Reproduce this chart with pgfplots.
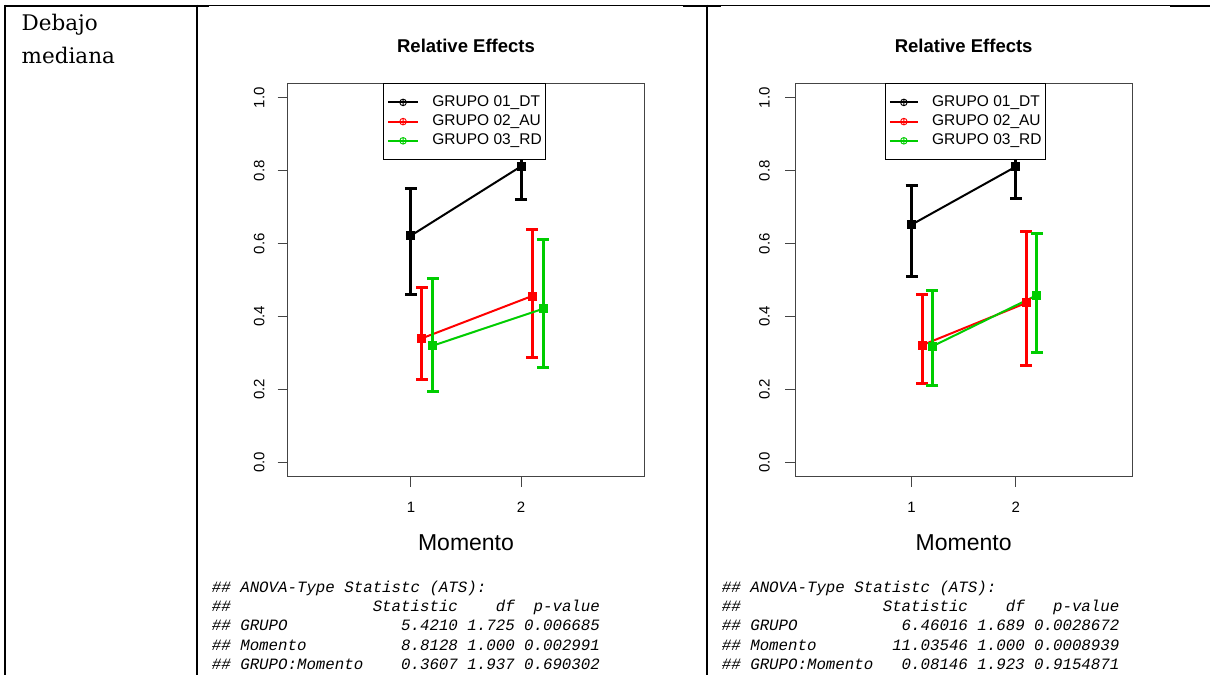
\documentclass[border=0pt]{standalone}
\usepackage{pgfplots}
\pgfplotsset{compat=1.18}
\usepackage{fontspec}
\setmainfont{Liberation Sans}
\newfontfamily\cellserif{DejaVu Serif}
\newfontfamily\rmono{Liberation Mono}
\definecolor{rred}{HTML}{FF0000}
\definecolor{rgreen}{HTML}{00CD00}
\definecolor{boxgray}{HTML}{444444}

\newcommand\legimg[2]{%
  \draw[#1, line width=2pt] (0pt,0pt) -- (#2,0pt);
  \draw[#1, line width=0.9pt] (0.5*#2,0pt) circle (3.3pt)
     (0.5*#2-3.3pt,0pt) -- (0.5*#2+3.3pt,0pt)
     (0.5*#2,-3.3pt) -- (0.5*#2,3.3pt);}

\pgfplotsset{
  rplot/.style={
    scale only axis, height=393.4pt,
    xmin=-0.12, xmax=3.12, ymin=-0.04, ymax=1.04,
    axis line style={boxgray, line width=1pt},
    tick style={boxgray, line width=1pt},
    tick align=outside, major tick length=10pt,
    xtick={1,2}, xticklabels={1,2},
    ytick={0,0.2,0.4,0.6,0.8,1.0}, yticklabels={0.0,0.2,0.4,0.6,0.8,1.0},
    tick pos=left,
    ticklabel style={font=\fontsize{15}{18}\selectfont, inner sep=0pt},
    yticklabel style={rotate=90, anchor=south},
    xticklabel style={anchor=base},
    xticklabel shift=26pt,
    title={Relative Effects},
    title style={font=\fontsize{18.5}{22}\selectfont\bfseries, at={(rel axis cs:0.5,1)}, anchor=base, yshift=24.6pt, inner sep=0pt},
    xlabel={Momento},
    xlabel style={font=\fontsize{23}{27}\selectfont, at={(rel axis cs:0.5,0)}, anchor=base, yshift=-74pt, inner sep=0pt},
    legend cell align=left,
    legend style={anchor=north west, draw=black, line width=0.8pt, fill=white,
      inner xsep=3.4pt, inner ysep=11.7pt, row sep=5.2pt,
      font=\fontsize{15.5}{18}\selectfont,
      nodes={inner sep=0pt, text height=11pt, text depth=3pt},
      /tikz/every odd column/.append style={column sep=13.3pt}},
  },
  errplot/.style={line width=2pt, mark=square*, mark size=3.5pt, mark options={solid},
    /pgfplots/error bars/y dir=both, /pgfplots/error bars/y explicit,
    /pgfplots/error bars/error mark=|,
    /pgfplots/error bars/error bar style={line width=3pt},
    /pgfplots/error bars/error mark options={line width=3pt, mark size=6pt}},
}

\newcommand\mline[3]{\node[anchor=base west, inner sep=0pt, font=\rmono\itshape\fontsize{15.77}{19}\selectfont] at (#1pt,-#2pt) {#3};}

\begin{document}
\begin{tikzpicture}
\path[use as bounding box, fill=white] (0pt,0pt) rectangle (1210pt,-675pt);

% table rules
\draw[line width=2pt] (5pt,-4.5pt) -- (5pt,-675pt);
\draw[line width=2pt] (196.7pt,-4.5pt) -- (196.7pt,-675pt);
\draw[line width=2pt] (706.7pt,-4.5pt) -- (706.7pt,-675pt);
\draw[line width=2pt] (4pt,-5.5pt) -- (209pt,-5.5pt);
\draw[line width=1pt] (209pt,-5pt) -- (683pt,-5pt);
\draw[line width=2pt] (683pt,-6pt) -- (721pt,-6pt);
\draw[line width=1pt] (721pt,-5pt) -- (1170pt,-5pt);
\draw[line width=2pt] (1170pt,-6pt) -- (1210pt,-6pt);

\node[anchor=base west, inner sep=0pt, font=\cellserif\fontsize{21.5}{31}\selectfont] at (21.5pt,-30.7pt) {Debajo};
\node[anchor=base west, inner sep=0pt, font=\cellserif\fontsize{21.5}{31}\selectfont] at (21.5pt,-63.3pt) {mediana};

% ---------- left plot ----------
\begin{axis}[rplot, width=356.6pt, at={(287.7pt,-476.7pt)}, anchor=south west,
  yticklabel shift=13pt,
  legend style={at={(rel axis cs:0.268,1)}}]
\addplot[errplot, black, legend image code/.code={\legimg{black}{30pt}}]
  table[x=x, y=y, y error plus=ep, y error minus=em] {
x y ep em
1 0.622 0.128 0.162
2 0.812 0.068 0.092
};
\addlegendentry{GRUPO 01\_DT}
\addplot[errplot, rred, legend image code/.code={\legimg{rred}{30pt}}]
  table[x=x, y=y, y error plus=ep, y error minus=em] {
x y ep em
1.1 0.340 0.140 0.113
2.1 0.456 0.184 0.170
};
\addlegendentry{GRUPO 02\_AU}
\addplot[errplot, rgreen, legend image code/.code={\legimg{rgreen}{30pt}}]
  table[x=x, y=y, y error plus=ep, y error minus=em] {
x y ep em
1.2 0.320 0.183 0.125
2.2 0.421 0.189 0.162
};
\addlegendentry{GRUPO 03\_RD\hspace{6pt}}
\end{axis}

% ---------- right plot ----------
\begin{axis}[rplot, width=337.3pt, at={(795pt,-476.7pt)}, anchor=south west,
  yticklabel shift=15pt,
  legend style={at={(rel axis cs:0.267,1)}}]
\addplot[errplot, black, legend image code/.code={\legimg{black}{28pt}}]
  table[x=x, y=y, y error plus=ep, y error minus=em] {
x y ep em
1 0.652 0.107 0.142
2 0.811 0.070 0.088
};
\addlegendentry{GRUPO 01\_DT}
\addplot[errplot, rred, legend image code/.code={\legimg{rred}{28pt}}]
  table[x=x, y=y, y error plus=ep, y error minus=em] {
x y ep em
1.1 0.321 0.138 0.105
2.1 0.437 0.195 0.172
};
\addlegendentry{GRUPO 02\_AU}
\addplot[errplot, rgreen, legend image code/.code={\legimg{rgreen}{28pt}}]
  table[x=x, y=y, y error plus=ep, y error minus=em] {
x y ep em
1.2 0.318 0.153 0.108
2.2 0.458 0.171 0.158
};
\addlegendentry{GRUPO 03\_RD}
\end{axis}

% ---------- R output ----------
\mline{211.7}{592}{\#\#~ANOVA-Type~Statistc~(ATS):}
\mline{211.7}{611}{\#\#~~~~~~~~~~~~~~~Statistic~~~~df~~p-value}
\mline{211.7}{630.5}{\#\#~GRUPO~~~~~~~~~~~~5.4210~1.725~0.006685}
\mline{211.7}{650}{\#\#~Momento~~~~~~~~~~8.8128~1.000~0.002991}
\mline{211.7}{669.5}{\#\#~GRUPO:Momento~~~~0.3607~1.937~0.690302}

\mline{721.7}{592}{\#\#~ANOVA-Type~Statistc~(ATS):}
\mline{721.7}{611}{\#\#~~~~~~~~~~~~~~~Statistic~~~~df~~~p-value}
\mline{721.7}{630.5}{\#\#~GRUPO~~~~~~~~~~~6.46016~1.689~0.0028672}
\mline{721.7}{650}{\#\#~Momento~~~~~~~~11.03546~1.000~0.0008939}
\mline{721.7}{669.5}{\#\#~GRUPO:Momento~~~0.08146~1.923~0.9154871}
\end{tikzpicture}
\end{document}
